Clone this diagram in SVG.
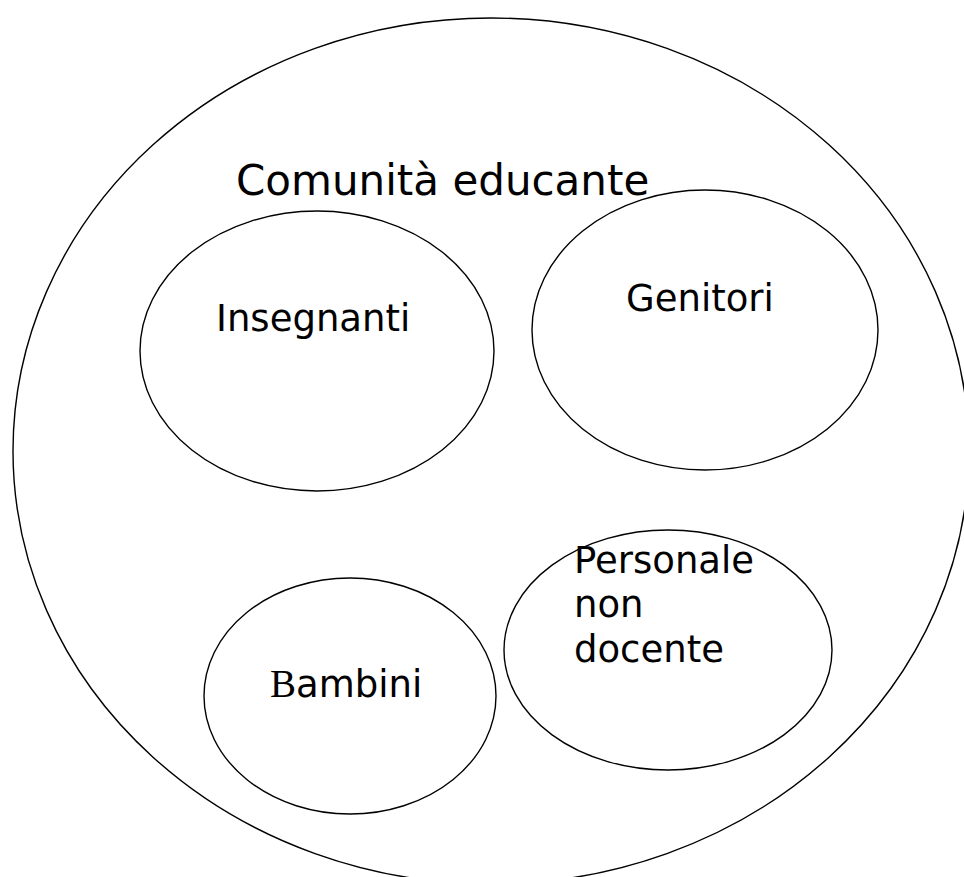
<svg xmlns="http://www.w3.org/2000/svg" width="964" height="877" viewBox="0 0 964 877">
<style>
.e{fill:none;stroke:#000;stroke-width:1.4}
.t{font-family:"DejaVu Sans","Verdana",sans-serif;font-size:37px;fill:#000}
.s{font-family:"Liberation Serif","Times New Roman",serif}
</style>
<rect width="964" height="877" fill="#fff"/>
<g id="comunita">
<ellipse class="e" cx="491" cy="451" rx="478" ry="433"/>
<text class="t" x="236" y="195" style="font-size:42px">Comunità educante</text>
</g>
<g id="insegnanti">
<ellipse class="e" cx="317" cy="351" rx="177" ry="140"/>
<text class="t" x="216" y="331">Insegnanti</text>
</g>
<g id="genitori">
<ellipse class="e" cx="705" cy="330" rx="173" ry="140"/>
<text class="t" x="626" y="311">Genitori</text>
</g>
<g id="personale">
<ellipse class="e" cx="668" cy="650" rx="164" ry="120"/>
<text class="t" x="574" y="573">Personale</text>
<text class="t" x="574" y="617">non</text>
<text class="t" x="574" y="662">docente</text>
</g>
<g id="bambini">
<ellipse class="e" cx="350" cy="696" rx="146" ry="118"/>
<text class="t" x="270" y="697"><tspan class="s" style="font-size:39px">B</tspan>ambini</text>
</g>
<g id="connectors"></g>
</svg>
